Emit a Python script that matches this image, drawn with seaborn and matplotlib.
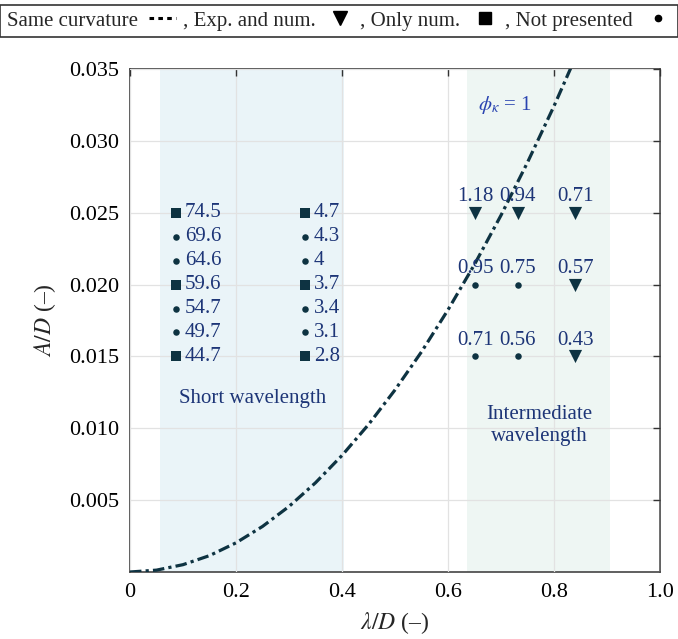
import numpy as np
import pandas as pd
import matplotlib
matplotlib.use("Agg")
import matplotlib.pyplot as plt
from matplotlib.lines import Line2D
import seaborn as sns

# ---------------- data ----------------
# phi_kappa = 1 curve
curve_x = [0.0, 0.05, 0.10, 0.15, 0.20, 0.25, 0.30, 0.35, 0.40, 0.45, 0.50,
           0.55, 0.60, 0.65, 0.70, 0.75, 0.80, 0.85]
curve_y = [0.0, 0.00013, 0.00051, 0.00114, 0.00203, 0.00317, 0.00456, 0.00621,
           0.00811, 0.01026, 0.01267, 0.01532, 0.01824, 0.02140, 0.02482,
           0.02850, 0.03242, 0.03660]

# short wavelength points
short_x1 = [0.087] * 7
short_x2 = [0.330] * 7
short_y = [0.025, 0.02333, 0.02167, 0.020, 0.01833, 0.01667, 0.015]
short_kind = ["Only num.", "Not presented", "Not presented", "Only num.",
              "Not presented", "Not presented", "Only num."]
short_lab1 = ["74.5", "69.6", "64.6", "59.6", "54.7", "49.7", "44.7"]
short_lab2 = ["4.7", "4.3", "4", "3.7", "3.4", "3.1", "2.8"]

# intermediate wavelength points
inter_x = [0.651, 0.732, 0.840, 0.651, 0.732, 0.840, 0.651, 0.732, 0.840]
inter_y = [0.025, 0.025, 0.025, 0.020, 0.020, 0.020, 0.015, 0.015, 0.015]
inter_kind = ["Exp. and num.", "Exp. and num.", "Exp. and num.",
              "Not presented", "Not presented", "Exp. and num.",
              "Not presented", "Not presented", "Exp. and num."]
inter_lab = ["1.18", "0.94", "0.71", "0.95", "0.75", "0.57", "0.71", "0.56", "0.43"]

x_ticks = [0, 0.2, 0.4, 0.6, 0.8, 1.0]
x_ticklabels = ["0", "0.2", "0.4", "0.6", "0.8", "1.0"]
y_ticks = [0.005, 0.010, 0.015, 0.020, 0.025, 0.030, 0.035]
y_ticklabels = ["0.005", "0.010", "0.015", "0.020", "0.025", "0.030", "0.035"]

short_band = (0.057, 0.403)
inter_band = (0.635, 0.906)

# ---------------- style ----------------
sns.set_theme(style="white")
plt.rcParams["font.family"] = ["Liberation Serif", "DejaVu Serif"]
plt.rcParams["mathtext.fontset"] = "stix"

DARK = "#0e3342"
TXT = "#1d3577"
BLUE = "#2a44b0"

fig = plt.figure(figsize=(6.78, 6.39), dpi=100)
ax = fig.add_axes([130 / 678, 1 - 572 / 639, 530 / 678, 503 / 639])

ax.axvspan(*short_band, color="#eaf4f8", zorder=0.1, lw=0)
ax.axvspan(*inter_band, color="#eef6f3", zorder=0.1, lw=0)

df_curve = pd.DataFrame({"x": curve_x, "y": curve_y})
sns.lineplot(data=df_curve, x="x", y="y", ax=ax, color=DARK, lw=2.3,
             linestyle=(0, (3.6, 1.3, 1.0, 1.3)), zorder=3)

pts = pd.DataFrame({
    "x": short_x1 + short_x2 + inter_x,
    "y": short_y + short_y + inter_y,
    "kind": short_kind + short_kind + inter_kind,
})
msize = {"Exp. and num.": 90, "Only num.": 55, "Not presented": 22}
mshape = {"Exp. and num.": "v", "Only num.": "s", "Not presented": "o"}
for k in ["Exp. and num.", "Only num.", "Not presented"]:
    sub = pts[pts["kind"] == k]
    sns.scatterplot(data=sub, x="x", y="y", ax=ax, marker=mshape[k],
                    s=msize[k], color=DARK, edgecolor=DARK, linewidth=0,
                    zorder=4, legend=False)

for xv, yv, lab in zip(short_x1, short_y, short_lab1):
    ax.text(xv + 0.017, yv, lab, color=TXT, fontsize=15, ha="left", va="center")
for xv, yv, lab in zip(short_x2, short_y, short_lab2):
    ax.text(xv + 0.017, yv, lab, color=TXT, fontsize=15, ha="left", va="center")
for xv, yv, lab in zip(inter_x, inter_y, inter_lab):
    ax.text(xv, yv + 0.0011, lab, color=TXT, fontsize=15, ha="center", va="center")

ax.text(0.232, 0.0121, "Short wavelength", color=TXT, fontsize=15,
        ha="center", va="center")
ax.text(0.772, 0.0102, "Intermediate\nwavelength", color=TXT, fontsize=15,
        ha="center", va="center", linespacing=1.2)
ax.text(0.708, 0.0325, r"$\phi_\kappa$ = 1", color=BLUE, fontsize=15,
        ha="center", va="center")

ax.set_xlim(0, 1.0)
ax.set_ylim(0, 0.035)
ax.set_xticks(x_ticks)
ax.set_xticklabels(x_ticklabels)
ax.set_yticks(y_ticks)
ax.set_yticklabels(y_ticklabels)
ax.grid(True, color="#e2e2e2", lw=0.9, zorder=0.5)
ax.set_axisbelow(False)
for gl in ax.get_xgridlines() + ax.get_ygridlines():
    gl.set_zorder(0.5)
ax.tick_params(axis="both", direction="in", length=5, width=1,
               top=True, right=True, labelsize=16, colors="#333333",
               labelcolor="black", pad=8)
for s in ax.spines.values():
    s.set_color("#444444")
    s.set_linewidth(1.2)

ax.set_xlabel(r"$\lambda/D$ (–)", fontsize=17, labelpad=6)
ax.set_ylabel(r"$A/D$ (–)", fontsize=17, labelpad=8)

handles = [
    Line2D([], [], color="black", lw=2.2, linestyle=(0, (1.5, 1.4))),
    Line2D([], [], color="black", lw=0, marker="v", markersize=10),
    Line2D([], [], color="black", lw=0, marker="s", markersize=8),
    Line2D([], [], color="black", lw=0, marker="o", markersize=4.5),
]
labels = ["Same curvature", ", Exp. and num.", ", Only num.", ", Not presented"]
leg = fig.legend(handles, labels, loc="center",
                 bbox_to_anchor=(0.5, 1 - 21 / 639),
                 ncol=4, markerfirst=False, frameon=True,
                 fancybox=False, edgecolor="black", fontsize=15,
                 handlelength=1.3, handletextpad=0.55, columnspacing=0.3,
                 borderpad=0.3, borderaxespad=0)
leg.get_frame().set_linewidth(1.2)

fig.savefig("out.png", dpi=100)
